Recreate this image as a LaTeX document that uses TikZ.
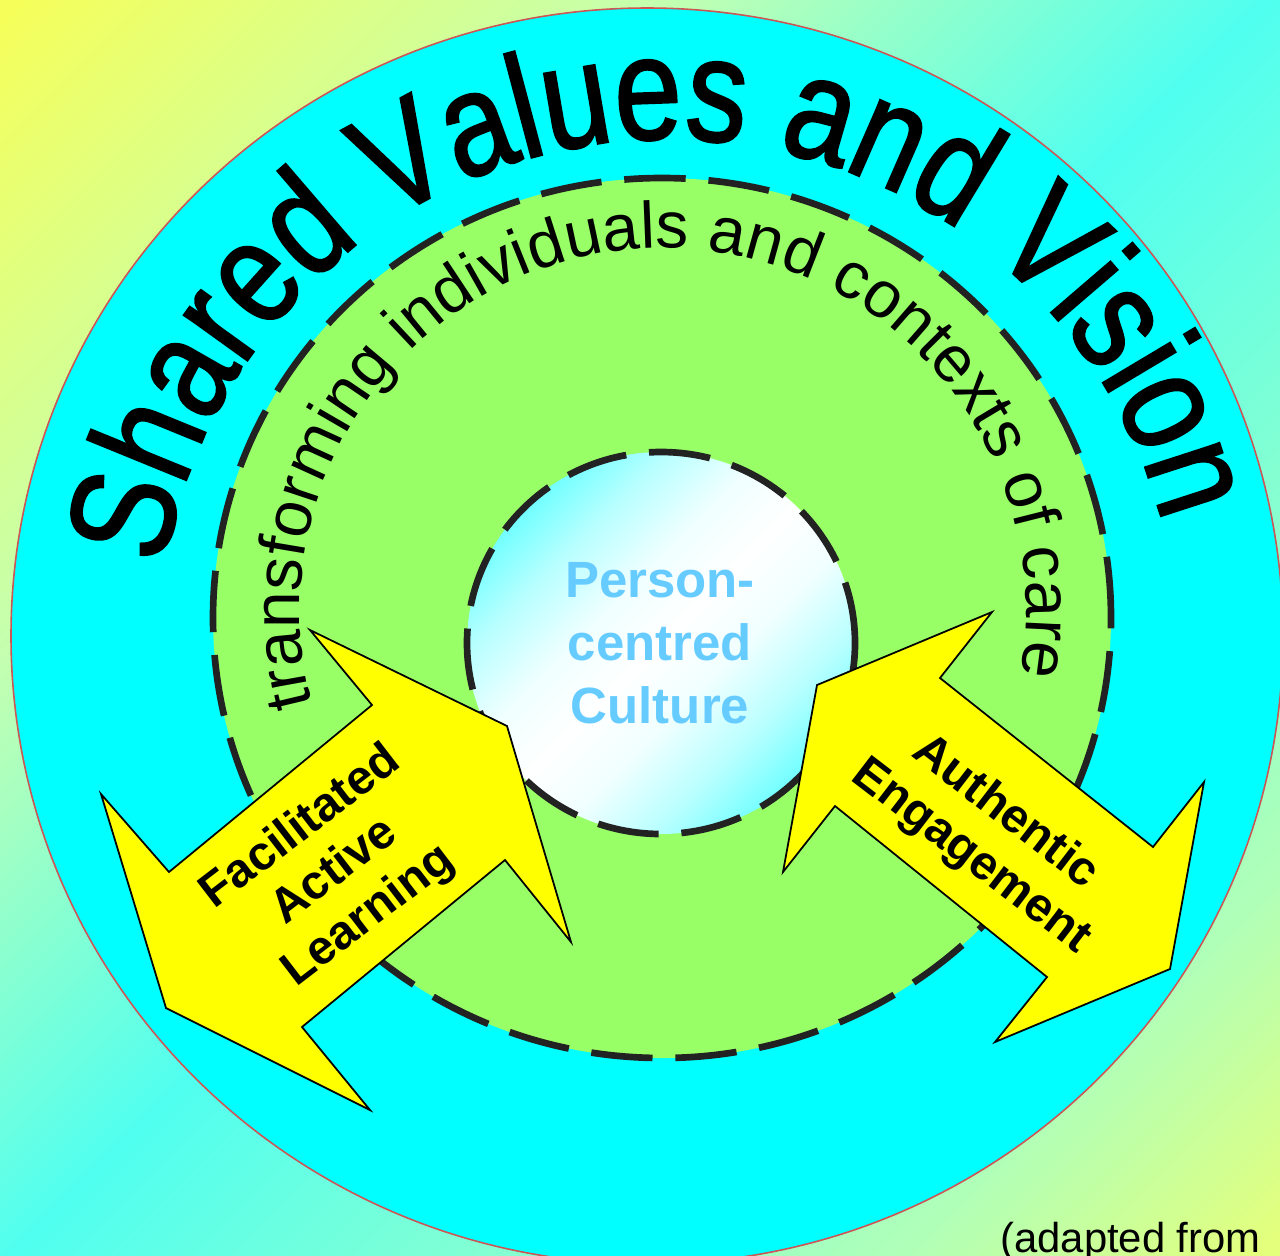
\documentclass[tikz,border=0pt]{standalone}
\usepackage{fontspec}
\setmainfont{Liberation Sans}
\newfontfamily\titlefamily[FakeStretch=0.82, FakeBold=1.5]{Liberation Sans}
\usetikzlibrary{decorations.text}

\definecolor{bgyellow}{HTML}{F6FF5A}
\definecolor{bgpale}{HTML}{C4FFB0}
\definecolor{bgcyan}{HTML}{50FFF0}
\definecolor{bgmint}{HTML}{B0FFB8}
\definecolor{bglime}{HTML}{E4FF7C}
\definecolor{ringcyan}{HTML}{00FFFF}
\definecolor{ringgreen}{HTML}{99FF66}
\definecolor{dashgrey}{HTML}{222222}
\definecolor{edgered}{HTML}{CC5555}
\definecolor{coredeep}{HTML}{20FFFF}
\definecolor{coremid}{HTML}{70FFFF}
\definecolor{corepale}{HTML}{B8FFFF}
\definecolor{corefaint}{HTML}{F0FFFF}
\definecolor{coreblue}{HTML}{66CCFF}
\definecolor{arrowyellow}{HTML}{FFFF00}

\pgfdeclareverticalshading{bgfade}{100bp}{color(0bp)=(bglime); color(15bp)=(bglime);
  color(25bp)=(bgmint); color(50bp)=(bgcyan); color(67bp)=(bgpale); color(85bp)=(bgyellow);
  color(100bp)=(bgyellow)}
\pgfdeclareverticalshading{coreglow}{100bp}{color(0bp)=(coredeep); color(25bp)=(coremid);
  color(33bp)=(corepale); color(42bp)=(corefaint); color(50bp)=(white);
  color(58bp)=(corefaint); color(67bp)=(corepale); color(75bp)=(coremid);
  color(100bp)=(coredeep)}

\newcommand{\titlefont}{\titlefamily\fontsize{84}{84}\selectfont}
\newcommand{\ringfont}{\fontsize{37.4}{37.4}\selectfont}

\tikzset{
  dashring/.style={draw=dashgrey, line width=3.8pt, dash pattern=on 35pt off 13pt},
  arrowshape/.style={draw=black, line width=1pt, fill=arrowyellow, line join=miter},
  arrowlabel/.style={font=\fontsize{27.2}{31.7}\selectfont\bfseries, align=center},
  corelabel/.style={font=\fontsize{29}{36}\selectfont\bfseries, text=coreblue, align=center},
}

\begin{document}
\begin{tikzpicture}[x=0.02cm, y=0.02cm]
  \useasboundingbox (0,0) rectangle (1280,-1255);
  \clip (0,0) rectangle (1280,-1255);
  % background
  \shade[shading=bgfade, shading angle=45] (0,0) rectangle (1280,-1255);

  % outer ring
  \coordinate (outerc) at (647,-636);
  \fill[ringcyan] (outerc) ellipse [x radius=636, y radius=628];
  \draw[edgered, line width=0.9pt] (outerc) ellipse [x radius=636, y radius=628];
  \coordinate (titlec) at (668,-649);
  \path[decorate, decoration={text along path, text align=center,
      text={|\titlefont|Shared Values and Vision}}]
    (titlec) ++(192.45:510) arc [start angle=192.45, end angle=-7.55, radius=510];

  % middle ring
  \coordinate (ringc) at (662,-618);
  \fill[ringgreen] (ringc) ellipse [x radius=449, y radius=440];
  \draw[dashring] (ringc) ellipse [x radius=449, y radius=440];
  \coordinate (subc) at (663,-611);
  \path[decorate, decoration={text along path, text align=center,
      text={|\ringfont|transforming individuals and contexts of care}}]
    (subc) ++(222.3:363) arc [start angle=222.3, end angle=-37.7, radius=363];

  % core
  \coordinate (corec) at (661,-643);
  \shade[shading=coreglow, shading angle=45] (corec) ellipse [x radius=194, y radius=191];
  \draw[dashring] (corec) ellipse [x radius=194, y radius=191];
  \node[corelabel] (core) at (660,-643) {Person-\\centred\\Culture};

  % double arrows
  \draw[arrowshape] (310,-630) -- (507,-726) -- (571,-942) -- (505,-860) -- (302,-1027)
    -- (370,-1110) -- (166,-1008) -- (101,-794) -- (169,-872) -- (372,-705) -- cycle;
  \draw[arrowshape] (992,-612) -- (817,-685) -- (783,-872) -- (835,-806) -- (1047,-977)
    -- (995,-1042) -- (1170,-969) -- (1204,-782) -- (1153,-847) -- (940,-678) -- cycle;
  \node[arrowlabel, rotate=37.5] (learning) at (335,-872) {Facilitated\\Active\\Learning};
  \node[arrowlabel, rotate=-37.5] (engagement) at (988,-835) {Authentic\\Engagement};

  \node[anchor=base west, inner sep=0pt, font=\fontsize{23.8}{28}\selectfont] (source)
    at (1000,-1252) {(adapted from};
\end{tikzpicture}
\end{document}
